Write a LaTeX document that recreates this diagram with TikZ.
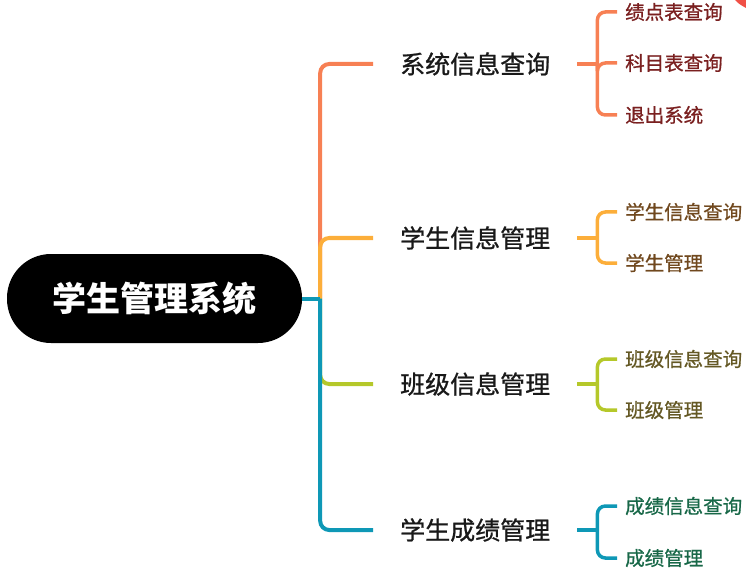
\documentclass[tikz,border=0pt]{standalone}
\usepackage{fontspec}
\usepackage{tikz}
\usetikzlibrary{positioning, calc}
\newfontfamily\cjk{Noto Sans CJK SC}
\newfontfamily\cjkmed{Noto Sans CJK SC}[FakeBold=0.9]
\definecolor{torange}{RGB}{247,128,84}
\definecolor{tyellow}{RGB}{252,174,58}
\definecolor{tgreen}{RGB}{181,200,42}
\definecolor{tteal}{RGB}{14,152,182}
\definecolor{tred}{RGB}{240,80,70}
\definecolor{dred}{RGB}{122,32,32}
\definecolor{dbrown}{RGB}{112,72,30}
\definecolor{dolive}{RGB}{100,88,36}
\definecolor{dgreen}{RGB}{24,104,72}

\begin{document}
\begin{tikzpicture}[x=1pt, y=-1pt,
    every node/.style={font=\cjk},
    branch/.style={line width=4pt, rounded corners=9pt},
    twig/.style={line width=3.5pt, rounded corners=8pt},
    topic/.style={anchor=west, inner xsep=27pt, inner ysep=2pt, text=black!90, font=\cjkmed\fontsize{25}{30}\selectfont},
    leaf/.style={anchor=west, inner xsep=8pt, inner ysep=2pt, font=\cjkmed\fontsize{19.5}{24}\selectfont}]
    \useasboundingbox (0,0) rectangle (746,577);

    % Root
    \node[fill=black, rounded corners=44pt, minimum width=295pt, minimum height=89pt, text=white,
          font=\cjk\bfseries\fontsize{34}{40}\selectfont] (root) at (154.5,298.5) {学生管理系统};
    \coordinate (hub) at ($(root.east)+(18,0)$);

    % First level
    \node[topic] (sysq) at (373,64) {系统信息查询};
    \node[topic] (stum) at (373,238) {学生信息管理};
    \node[topic] (clsm) at (373,384) {班级信息管理};
    \node[topic] (scom) at (373,530) {学生成绩管理};

    \draw[branch, torange] (hub) |- (sysq.west);
    \draw[branch, tyellow] (hub) |- (stum.west);
    \draw[branch, tgreen] (hub) |- (clsm.west);
    \draw[branch, tteal] (root.east) -- (hub);
    \draw[branch, tteal] (hub) |- (scom.west);

    % Second level
    \coordinate (sysj) at ($(sysq.east)+(20,0)$);
    \coordinate (stuj) at ($(stum.east)+(20,0)$);
    \coordinate (clsj) at ($(clsm.east)+(20,0)$);
    \coordinate (scoj) at ($(scom.east)+(20,0)$);
    \draw[twig, torange] (sysq.east) -- (sysj);
    \draw[twig, tyellow] (stum.east) -- (stuj);
    \draw[twig, tgreen] (clsm.east) -- (clsj);
    \draw[twig, tteal] (scom.east) -- (scoj);

    \foreach \nm/\y/\txt in {gpa/12/绩点表查询, subj/63/科目表查询, quit/115/退出系统} {
      \node[leaf, text=dred] (\nm) at (617,\y) {\txt};
      \draw[twig, torange] (sysj) |- (\nm.west);
    }
    \foreach \nm/\y/\txt in {stuq/212/学生信息查询, stua/263/学生管理} {
      \node[leaf, text=dbrown] (\nm) at (617,\y) {\txt};
      \draw[twig, tyellow] (stuj) |- (\nm.west);
    }
    \foreach \nm/\y/\txt in {clsq/359/班级信息查询, clsa/410/班级管理} {
      \node[leaf, text=dolive] (\nm) at (617,\y) {\txt};
      \draw[twig, tgreen] (clsj) |- (\nm.west);
    }
    \foreach \nm/\y/\txt in {scoq/506/成绩信息查询, scoa/558/成绩管理} {
      \node[leaf, text=dgreen] (\nm) at (617,\y) {\txt};
      \draw[twig, tteal] (scoj) |- (\nm.west);
    }

    % corner mark
    \fill[tred] (735,0) .. controls (739,4) .. (746,8) -- (746,0) -- cycle;
\end{tikzpicture}
\end{document}
